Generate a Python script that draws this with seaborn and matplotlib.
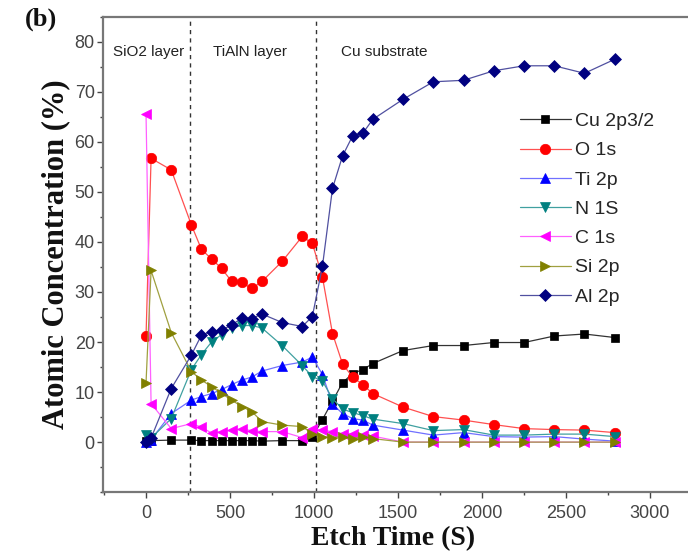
import matplotlib
matplotlib.use("Agg")
import matplotlib.pyplot as plt
import seaborn as sns
import pandas as pd
import numpy as np
from matplotlib.ticker import MultipleLocator

sns.set_theme(style="ticks")
plt.rcParams['font.family'] = ['Liberation Sans', 'DejaVu Sans']

etch_time = [0, 30, 150, 270, 330, 390, 450, 510, 570, 630, 690, 810, 930, 990,
             1050, 1110, 1170, 1230, 1290, 1350, 1530, 1710, 1890, 2070, 2250, 2430, 2610, 2790]

cu_2p = [0.2, 0.3, 0.4, 0.4, 0.3, 0.3, 0.3, 0.3, 0.3, 0.3, 0.2, 0.3, 0.3, 1.0,
         4.5, 8.2, 11.9, 13.7, 14.5, 15.7, 18.3, 19.3, 19.3, 19.9, 19.9, 21.2, 21.6, 20.9]
o_1s = [21.2, 56.7, 54.4, 43.4, 38.5, 36.6, 34.7, 32.1, 31.9, 30.7, 32.1, 36.1, 41.1, 39.7,
        33.0, 21.7, 15.6, 13.0, 11.5, 9.7, 7.0, 5.1, 4.4, 3.5, 2.7, 2.5, 2.4, 1.9]
ti_2p = [0.0, 0.5, 5.7, 8.4, 9.1, 9.7, 10.5, 11.5, 12.4, 13.0, 14.2, 15.3, 16.0, 17.0,
         13.5, 7.6, 5.7, 4.7, 4.4, 3.4, 2.4, 1.4, 1.9, 1.1, 1.0, 1.1, 0.6, 0.2]
n_1s = [1.4, 0.8, 4.7, 14.5, 17.5, 20.0, 21.5, 22.8, 23.3, 23.3, 22.8, 19.3, 15.3, 13.1,
        12.2, 8.7, 6.6, 5.9, 5.3, 4.6, 3.7, 2.3, 2.5, 1.4, 1.4, 1.6, 1.6, 1.1]
c_1s = [65.5, 7.7, 2.7, 3.7, 3.0, 1.8, 2.1, 2.4, 2.6, 2.3, 2.1, 2.1, 0.9, 2.6,
        2.4, 2.1, 1.7, 1.7, 1.4, 1.2, 0.0, 0.0, 0.0, 0.0, 0.0, 0.0, 0.0, 0.0]
si_2p = [11.9, 34.3, 21.9, 14.1, 12.4, 11.1, 9.7, 8.4, 7.1, 6.1, 4.1, 3.4, 3.1, 1.7,
         1.1, 0.9, 1.1, 0.7, 1.1, 0.7, 0.0, 0.0, 0.0, 0.0, 0.0, 0.0, 0.0, 0.0]
al_2p = [0.0, 0.8, 10.7, 17.4, 21.4, 22.1, 22.4, 23.4, 24.8, 24.7, 25.6, 23.9, 23.1, 25.1,
         35.1, 50.7, 57.2, 61.2, 61.7, 64.5, 68.5, 72.0, 72.3, 74.2, 75.2, 75.2, 73.7, 76.5]

series_names = ["Cu 2p3/2", "O 1s", "Ti 2p", "N 1S", "C 1s", "Si 2p", "Al 2p"]
series_values = [cu_2p, o_1s, ti_2p, n_1s, c_1s, si_2p, al_2p]
layer_labels = ["SiO2 layer", "TiAlN layer", "Cu substrate"]
layer_bounds = [260, 1010]

styles = {
    "Cu 2p3/2": dict(color="#000000", line="#333333", marker="s", ms=5.5),
    "O 1s": dict(color="#ff0000", line="#ff5050", marker="o", ms=7.5),
    "Ti 2p": dict(color="#0000ff", line="#7070ff", marker="^", ms=7),
    "N 1S": dict(color="#008080", line="#40a0a0", marker="v", ms=7),
    "C 1s": dict(color="#ff00ff", line="#ff60ff", marker="<", ms=7),
    "Si 2p": dict(color="#808000", line="#a0a040", marker=">", ms=7),
    "Al 2p": dict(color="#000080", line="#5050a0", marker="D", ms=6),
}

fig = plt.figure(figsize=(6.88, 5.58), dpi=100)
ax = fig.add_axes([0.150, 0.118, 0.868, 0.852])

for name, vals in zip(series_names, series_values):
    st = styles[name]
    df = pd.DataFrame({"t": etch_time, "v": vals})
    sns.lineplot(data=df, x="t", y="v", ax=ax, sort=False, color=st["line"],
                 linewidth=0.9, marker=st["marker"], markersize=st["ms"],
                 markerfacecolor=st["color"], markeredgecolor=st["color"],
                 markeredgewidth=0.5, label=name, legend=False)

for b in layer_bounds:
    ax.axvline(b, color="#333333", linestyle=(0, (3, 3)), linewidth=1.0, zorder=0)

ax.text(15, 78, layer_labels[0], ha="center", va="center", fontsize=11, color="#222222")
ax.text(620, 78, layer_labels[1], ha="center", va="center", fontsize=11, color="#222222")
ax.text(1420, 78, layer_labels[2], ha="center", va="center", fontsize=11, color="#222222")

ax.set_xlim(-255, 3300)
ax.set_ylim(-10, 85)
ax.xaxis.set_major_locator(MultipleLocator(500))
ax.xaxis.set_minor_locator(MultipleLocator(250))
ax.yaxis.set_major_locator(MultipleLocator(10))
ax.yaxis.set_minor_locator(MultipleLocator(5))
ax.set_xticks([0, 500, 1000, 1500, 2000, 2500, 3000])
ax.set_yticks([0, 10, 20, 30, 40, 50, 60, 70, 80])
ax.tick_params(axis="both", which="major", direction="out", length=4, width=1,
               labelsize=13, colors="#444444", top=False, right=False)
ax.tick_params(axis="x", which="major", pad=5)
ax.tick_params(axis="y", which="major", pad=2)
ax.tick_params(axis="both", which="minor", direction="out", length=2.5, width=1,
               colors="#444444", top=False, right=False)
for s in ["left", "bottom", "top", "right"]:
    ax.spines[s].set_color("#777777")
    ax.spines[s].set_linewidth(1.6)
    ax.spines[s].set_visible(True)

ax.set_xlabel("Etch Time (S)", fontsize=20, fontweight="bold",
              family=["Liberation Serif", "DejaVu Serif"], labelpad=2, color="#111111")
ax.xaxis.set_label_coords(0.485, -0.071)
ax.set_ylabel("Atomic Concentration (%)", fontsize=22, fontweight="bold",
              family=["Liberation Serif", "DejaVu Serif"], labelpad=3, color="#111111")

fig.text(0.036, 0.966, "(b)", fontsize=19, fontweight="bold",
         family=["Liberation Serif", "DejaVu Serif"], ha="left", va="center", color="#111111")

leg = ax.legend(loc="upper left", bbox_to_anchor=(0.685, 0.815), frameon=False,
                fontsize=14, handlelength=2.6, handletextpad=0.25,
                labelspacing=0.6, borderaxespad=0)

fig.savefig("out.png", dpi=100)
